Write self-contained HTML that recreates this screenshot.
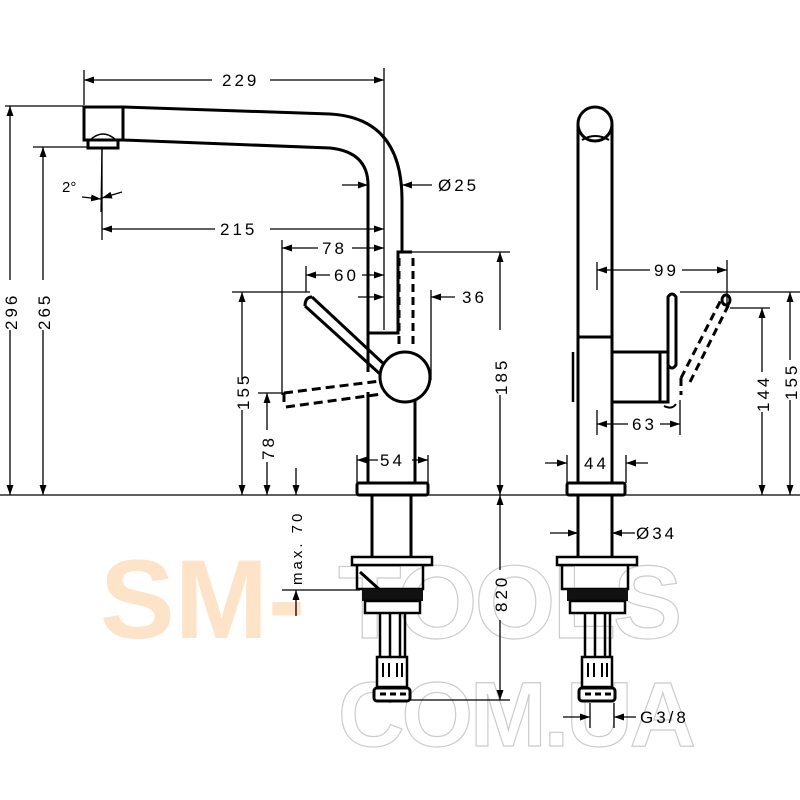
<!DOCTYPE html>
<html><head><meta charset="utf-8"><style>
html,body{margin:0;padding:0;background:#fff}
svg{display:block}
text{font-family:"Liberation Sans",sans-serif;font-size:17px;fill:#000;letter-spacing:3px}
</style></head><body>
<svg width="800" height="800" viewBox="0 0 800 800" xmlns="http://www.w3.org/2000/svg">
<defs>
<marker id="a" viewBox="0 0 10 10" refX="10" refY="5" markerWidth="10" markerHeight="10" markerUnits="userSpaceOnUse" orient="auto-start-reverse"><path d="M0,1.5 L10,5 L0,8.5z" fill="#000"/></marker>
<g id="mount">
<rect x="-40" y="0" width="80" height="8" fill="#fff" stroke="#000" stroke-width="2.5"/>
<path d="M-35,8 V32 H31 V8" fill="none" stroke="#000" stroke-width="2.5"/>
<rect x="-30" y="32" width="61" height="12" fill="#111"/>
<rect x="-27" y="44" width="55" height="12" fill="#fff" stroke="#000" stroke-width="2.5"/>
<path d="M-12,56 V132 M-2,56 V132 M8,56 V132 M13,56 V132" stroke="#000" stroke-width="2.5"/>
<rect x="-15" y="100" width="30" height="30" fill="#fff" stroke="#000" stroke-width="2.5"/>
<path d="M-9,106 v14 M-3,106 v14 M5,106 v14 M10,106 v14" stroke="#000" stroke-width="2"/>
<rect x="-18" y="131" width="36" height="13" rx="3" fill="#fff" stroke="#000" stroke-width="3"/>
<path d="M-12,137 h6 M-2,137 h6 M8,137 h6" stroke="#000" stroke-width="3"/>
</g>
</defs>

<!-- watermark -->
<g font-family="Liberation Sans,sans-serif" font-weight="bold">
<text x="100" y="638" style="font-size:112px;letter-spacing:0;fill:#fde3c8">SM-</text>
<text x="338" y="638" style="font-size:104px;letter-spacing:-3px;fill:none;stroke:#ccc;stroke-width:1.2">TOOLS</text>
<text x="338" y="746" style="font-size:92px;letter-spacing:-3px;fill:none;stroke:#ccc;stroke-width:1.2">COM.UA</text>
</g>

<g fill="none" stroke="#000" stroke-width="1.3">
<line x1="0" y1="495" x2="800" y2="495"/>
<line x1="84" y1="70" x2="84" y2="105"/>
<line x1="384" y1="68" x2="384" y2="330"/>
<line x1="5" y1="106" x2="84" y2="106"/>
<line x1="33" y1="147" x2="88" y2="147"/>
<line x1="102" y1="148" x2="102" y2="240"/>
<line x1="282" y1="240" x2="282" y2="395"/>
<line x1="306" y1="266" x2="306" y2="292"/>
<line x1="232" y1="292" x2="310" y2="292"/>
<line x1="258" y1="393" x2="286" y2="393"/>
<line x1="412" y1="252" x2="510" y2="252"/>
<line x1="431" y1="290" x2="431" y2="380"/>
<line x1="375" y1="700" x2="510" y2="700"/>
<line x1="357" y1="455" x2="357" y2="483"/>
<line x1="428" y1="455" x2="428" y2="483"/>
<line x1="282" y1="590" x2="360" y2="590"/>
<line x1="84" y1="80" x2="212" y2="80" marker-start="url(#a)"/>
<line x1="270" y1="80" x2="384" y2="80" marker-end="url(#a)"/>
<line x1="10" y1="106" x2="10" y2="280" marker-start="url(#a)"/>
<line x1="10" y1="330" x2="10" y2="495" marker-end="url(#a)"/>
<line x1="43" y1="147" x2="43" y2="280" marker-start="url(#a)"/>
<line x1="43" y1="330" x2="43" y2="495" marker-end="url(#a)"/>
<line x1="102" y1="229" x2="215" y2="229" marker-start="url(#a)"/>
<line x1="270" y1="229" x2="384" y2="229" marker-end="url(#a)"/>
<line x1="282" y1="248" x2="318" y2="248" marker-start="url(#a)"/>
<line x1="352" y1="248" x2="384" y2="248" marker-end="url(#a)"/>
<line x1="306" y1="275" x2="330" y2="275" marker-start="url(#a)"/>
<line x1="362" y1="275" x2="384" y2="275" marker-end="url(#a)"/>
<line x1="358" y1="297" x2="384" y2="297" marker-end="url(#a)"/>
<line x1="455" y1="297" x2="431" y2="297" marker-end="url(#a)"/>
<line x1="342" y1="185" x2="368" y2="185" marker-end="url(#a)"/>
<line x1="432" y1="185" x2="402" y2="185" marker-end="url(#a)"/>
<line x1="242" y1="292" x2="242" y2="380" marker-start="url(#a)"/>
<line x1="242" y1="410" x2="242" y2="495" marker-end="url(#a)"/>
<line x1="267" y1="393" x2="267" y2="430" marker-start="url(#a)"/>
<line x1="267" y1="462" x2="267" y2="495" marker-end="url(#a)"/>
<line x1="296" y1="468" x2="296" y2="495" marker-end="url(#a)"/>
<line x1="296" y1="616" x2="296" y2="590" marker-end="url(#a)"/>
<line x1="357" y1="460" x2="378" y2="460" marker-start="url(#a)"/>
<line x1="412" y1="460" x2="428" y2="460" marker-end="url(#a)"/>
<line x1="500" y1="252" x2="500" y2="330" marker-start="url(#a)"/>
<line x1="500" y1="395" x2="500" y2="495" marker-end="url(#a)"/>
<line x1="500" y1="495" x2="500" y2="570" marker-start="url(#a)"/>
<line x1="500" y1="620" x2="500" y2="700" marker-end="url(#a)"/>
<line x1="102" y1="148" x2="101" y2="212"/>
<line x1="82" y1="197" x2="101" y2="199" marker-end="url(#a)"/>
<line x1="122" y1="192" x2="102" y2="198" marker-end="url(#a)"/>
</g>
<g font-size="17">
<text x="222" y="86">229</text>
<text x="220" y="235">215</text>
<text x="322" y="254">78</text>
<text x="334" y="281">60</text>
<text x="462" y="303">36</text>
<text x="438" y="191">Ø25</text>
<text x="380" y="466">54</text>
<text x="62" y="192" style="font-size:15px;letter-spacing:0">2°</text>
<text transform="translate(17,330) rotate(-90)">296</text>
<text transform="translate(50,330) rotate(-90)">265</text>
<text transform="translate(249,410) rotate(-90)">155</text>
<text transform="translate(274,460) rotate(-90)">78</text>
<text transform="translate(507,395) rotate(-90)">185</text>
<text transform="translate(507,612) rotate(-90)">820</text>
<text transform="translate(302,585) rotate(-90)" style="font-size:15px">max. 70</text>
</g>

<!-- LEFT faucet -->
<g fill="none" stroke="#000" stroke-width="3">
<path d="M123,107 L330,114 Q402,118 402,200 V252"/>
<path d="M123,140 L330,148 Q368,152 368,185 V333"/>
<rect x="84" y="107" width="39" height="33" fill="#fff"/>
<path d="M88,140 v8 h30 v-8" />
<path d="M90,140 Q103,128 116,140" stroke-width="1.5"/>
<path d="M368,333 H398 V252 H412" />
<path d="M399,258 V345 M413,258 V345" stroke-dasharray="8,5"/>
<path d="M368,333 V372 M368,392 V483"/>
<path d="M415,398 V483"/>
<path d="M312,297 L386,366 M305,306 L380,374" />
<path d="M312,297 Q305,297 305,306"/>
<path d="M284,393 L380,381 M286,407 L382,394 M284,393 V407" stroke-dasharray="9,5"/>
<circle cx="405" cy="377" r="25" fill="#fff"/>
<rect x="357" y="483" width="71" height="12" rx="2" fill="#fff"/>
<path d="M372,495 V557 M411,495 V557"/>
</g>
<use href="#mount" x="392" y="557"/>
<path d="M360,572 L380,590" stroke="#000" stroke-width="3"/>

<!-- RIGHT faucet -->
<g fill="none" stroke="#000" stroke-width="3">
<path d="M578,483 V125 M612,125 V483"/>
<circle cx="595" cy="124" r="17" fill="#fff"/>
<path d="M582,140 Q595,132 609,140" stroke-width="2"/>
<path d="M578,337 H612"/>
<path d="M612,352 H660 V402 H612"/>
<path d="M660,352 H668 V402 H660"/>
<path d="M573,352 V402 M578,352 V402" stroke-width="2.5"/>
<path d="M668,297 Q672,291 676,297 V365 Q672,371 668,365Z" fill="#fff"/>
<path d="M681,378 L722,298 M690,382 L730,302 M681,378 V395" stroke-dasharray="8,5"/>
<ellipse cx="726" cy="300" rx="4" ry="5"/>
<path d="M664,406 Q672,410 676,404" stroke-width="2"/>
<rect x="567" y="483" width="58" height="12" rx="2" fill="#fff"/>
<path d="M578,495 V557 M612,495 V557"/>
</g>
<use href="#mount" x="597" y="557"/>
<g fill="none" stroke="#000" stroke-width="1.3">
<line x1="680" y1="292" x2="800" y2="292"/>
<line x1="730" y1="308" x2="770" y2="308"/>
<line x1="597" y1="262" x2="597" y2="290"/>
<line x1="727" y1="260" x2="727" y2="305"/>
<line x1="597" y1="410" x2="597" y2="435"/>
<line x1="680" y1="400" x2="680" y2="435"/>
<line x1="597" y1="270" x2="650" y2="270" marker-start="url(#a)"/>
<line x1="682" y1="270" x2="727" y2="270" marker-end="url(#a)"/>
<line x1="597" y1="424" x2="628" y2="424" marker-start="url(#a)"/>
<line x1="660" y1="424" x2="680" y2="424" marker-end="url(#a)"/>
<line x1="545" y1="463" x2="567" y2="463" marker-end="url(#a)"/>
<line x1="648" y1="463" x2="626" y2="463" marker-end="url(#a)"/>
<line x1="567" y1="455" x2="567" y2="483"/>
<line x1="626" y1="455" x2="626" y2="483"/>
<line x1="762" y1="308" x2="762" y2="372" marker-start="url(#a)"/>
<line x1="762" y1="412" x2="762" y2="495" marker-end="url(#a)"/>
<line x1="790" y1="292" x2="790" y2="360" marker-start="url(#a)"/>
<line x1="790" y1="400" x2="790" y2="495" marker-end="url(#a)"/>
<line x1="550" y1="533" x2="578" y2="533" marker-end="url(#a)"/>
<line x1="635" y1="533" x2="612" y2="533" marker-end="url(#a)"/>
<line x1="563" y1="717" x2="590" y2="717" marker-end="url(#a)"/>
<line x1="636" y1="717" x2="614" y2="717" marker-end="url(#a)"/>
<line x1="590" y1="703" x2="590" y2="728"/>
<line x1="614" y1="703" x2="614" y2="728"/>
</g>
<g>
<text x="654" y="276">99</text>
<text x="632" y="430">63</text>
<text x="584" y="469">44</text>
<text x="636" y="539">Ø34</text>
<text x="640" y="723">G3/8</text>
<text transform="translate(769,412) rotate(-90)">144</text>
<text transform="translate(797,400) rotate(-90)">155</text>
</g>
</svg>
</body></html>
